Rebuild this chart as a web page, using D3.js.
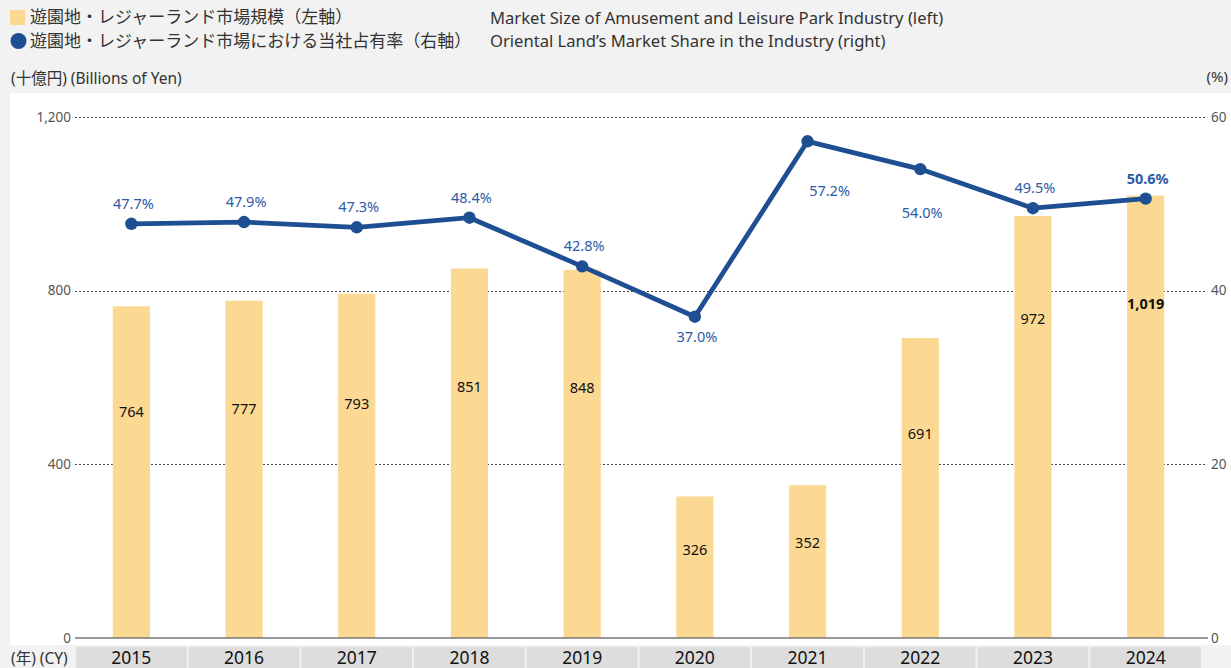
<!DOCTYPE html>
<html>
<head>
<meta charset="utf-8">
<script src="https://cdn.jsdelivr.net/npm/d3@7/dist/d3.min.js"></script>
<style>
  html, body { margin: 0; padding: 0; background: #f1f2f1; }
  svg { display: block; }
  text { font-family: "Noto Sans", "Noto Sans CJK JP", sans-serif; }
</style>
</head>
<body>
<svg id="chart" width="1231" height="668"></svg>
<script>
// Calendar years
const years = ["2015", "2016", "2017", "2018", "2019", "2020", "2021", "2022", "2023", "2024"];
// Market size of amusement and leisure parks (billions of yen, left axis)
const marketSize = [764, 777, 793, 851, 848, 326, 352, 691, 972, 1019];
// Oriental Land's market share (%, right axis)
const marketShare = [47.7, 47.9, 47.3, 48.4, 42.8, 37.0, 57.2, 54.0, 49.5, 50.6];
// Where each share label sits relative to its point
const shareLabelSide = ["above", "above", "above", "above", "above", "below", "belowRight", "belowFar", "above", "above"];
// Axis ticks
const leftTicks = [0, 400, 800, 1200];
const rightTicks = [0, 20, 40, 60];

const svg = d3.select("#chart");
const W = 1231, H = 668;
const plot = { left: 75, right: 1202, top: 117, bottom: 638 };

const barColor = "#fcd992";
const lineColor = "#1e4f92";
const shareText = "#2d5ba5";

// White plotting panel
svg.append("rect")
  .attr("x", 10).attr("y", 93)
  .attr("width", W - 10).attr("height", 552)
  .attr("fill", "#ffffff");

const x = d3.scaleBand().domain(years).range([plot.left, plot.right]).paddingInner(0).paddingOuter(0);
const yL = d3.scaleLinear().domain([0, 1200]).range([plot.bottom, plot.top]);
const yR = d3.scaleLinear().domain([0, 60]).range([plot.bottom, plot.top]);
const barW = x.bandwidth() * 0.33;
const cx = i => x(years[i]) + x.bandwidth() / 2;

// Dotted gridlines (skip the baseline)
svg.append("g").selectAll("line")
  .data(leftTicks.filter(t => t > 0))
  .join("line")
  .attr("x1", plot.left).attr("x2", 1207)
  .attr("y1", d => Math.round(yL(d)) + 0.5).attr("y2", d => Math.round(yL(d)) + 0.5)
  .attr("stroke", "#444").attr("stroke-width", 1)
  .attr("stroke-dasharray", "2,2");

// Left axis
const leftAxis = d3.axisLeft(yL).tickValues(leftTicks).tickSize(0).tickPadding(0)
  .tickFormat(d3.format(","));
const gl = svg.append("g").attr("transform", `translate(${plot.left - 4},0)`).call(leftAxis);
gl.select(".domain").remove();
gl.selectAll("text").attr("font-size", 13.5).attr("fill", "#555")
  .attr("font-family", "'Noto Sans', sans-serif");

// Right axis
const rightAxis = d3.axisRight(yR).tickValues(rightTicks).tickSize(0).tickPadding(0);
const gr = svg.append("g").attr("transform", `translate(1211,0)`).call(rightAxis);
gr.select(".domain").remove();
gr.selectAll("text").attr("font-size", 13.5).attr("fill", "#555")
  .attr("font-family", "'Noto Sans', sans-serif");

// Bars
svg.append("g").selectAll("rect")
  .data(marketSize)
  .join("rect")
  .attr("x", (d, i) => x(years[i]) + (x.bandwidth() - barW) / 2)
  .attr("y", d => yL(d))
  .attr("width", barW)
  .attr("height", d => yL(0) - yL(d))
  .attr("fill", barColor);

// Bar value labels, set down inside each bar
function labelDepth(d, i) {
  const h = yL(0) - yL(d);
  if (i >= 8) return h * 0.245;
  if (h < 200) return h * 0.38;
  return h * 0.32;
}
svg.append("g").selectAll("text")
  .data(marketSize)
  .join("text")
  .attr("x", (d, i) => cx(i))
  .attr("y", (d, i) => yL(d) + labelDepth(d, i) + 5)
  .attr("text-anchor", "middle")
  .attr("font-size", 14.5)
  .attr("font-weight", (d, i) => i === marketSize.length - 1 ? 700 : 400)
  .attr("fill", "#111")
  .text(d => d3.format(",")(d));

// Baseline
svg.append("line")
  .attr("x1", plot.left).attr("x2", 1208)
  .attr("y1", plot.bottom).attr("y2", plot.bottom)
  .attr("stroke", "#777").attr("stroke-width", 1.6);

// Year band cells
const cells = svg.append("g");
cells.selectAll("rect")
  .data(years)
  .join("rect")
  .attr("x", d => x(d) + 1)
  .attr("y", 647)
  .attr("width", x.bandwidth() - 2)
  .attr("height", 21)
  .attr("fill", "#dcdddc");
cells.selectAll("text")
  .data(years)
  .join("text")
  .attr("x", d => x(d) + x.bandwidth() / 2)
  .attr("y", 664)
  .attr("text-anchor", "middle")
  .attr("font-size", 17.5)
  .attr("fill", "#111")
  .text(d => d);

// Share line
const line = d3.line()
  .x((d, i) => cx(i))
  .y(d => yR(d));
svg.append("path")
  .datum(marketShare)
  .attr("d", line)
  .attr("fill", "none")
  .attr("stroke", lineColor)
  .attr("stroke-width", 4.8)
  .attr("stroke-linejoin", "round");

svg.append("g").selectAll("circle")
  .data(marketShare)
  .join("circle")
  .attr("cx", (d, i) => cx(i))
  .attr("cy", d => yR(d))
  .attr("r", 6.2)
  .attr("fill", lineColor);

// Share labels
const sideOffset = {
  above: { dx: 2, dy: -15 },
  below: { dx: 2, dy: 25 },
  belowFar: { dx: 2, dy: 49 },
  belowRight: { dx: 22, dy: 55 }
};
svg.append("g").selectAll("text")
  .data(marketShare)
  .join("text")
  .attr("x", (d, i) => cx(i) + sideOffset[shareLabelSide[i]].dx)
  .attr("y", (d, i) => yR(d) + sideOffset[shareLabelSide[i]].dy)
  .attr("text-anchor", "middle")
  .attr("font-size", 14.5)
  .attr("font-weight", (d, i) => i === marketShare.length - 1 ? 700 : 400)
  .attr("fill", shareText)
  .text(d => d.toFixed(1) + "%");

// Legend
const legend = svg.append("g");
legend.append("rect").attr("x", 10).attr("y", 10).attr("width", 15).attr("height", 15).attr("fill", barColor);
legend.append("circle").attr("cx", 18.5).attr("cy", 41).attr("r", 8).attr("fill", lineColor);
legend.append("text").attr("x", 30).attr("y", 23).attr("font-size", 17).attr("fill", "#333")
  .attr("font-family", "'Noto Sans CJK JP', sans-serif")
  .text("遊園地・レジャーランド市場規模（左軸）");
legend.append("text").attr("x", 30).attr("y", 47).attr("font-size", 17).attr("fill", "#333")
  .attr("font-family", "'Noto Sans CJK JP', sans-serif")
  .text("遊園地・レジャーランド市場における当社占有率（右軸）");
legend.append("text").attr("x", 490).attr("y", 24).attr("font-size", 16.6).attr("fill", "#333")
  .text("Market Size of Amusement and Leisure Park Industry (left)");
legend.append("text").attr("x", 490).attr("y", 47).attr("font-size", 16.6).attr("fill", "#333")
  .text("Oriental Land’s Market Share in the Industry (right)");

// Axis unit captions
svg.append("text").attr("x", 11).attr("y", 84).attr("font-size", 15.5).attr("fill", "#333")
  .text("(十億円) (Billions of Yen)");
svg.append("text").attr("x", 1228).attr("y", 82).attr("text-anchor", "end").attr("font-size", 15).attr("fill", "#333")
  .text("(%)");
svg.append("text").attr("x", 11).attr("y", 664).attr("font-size", 15.5).attr("fill", "#333")
  .text("(年) (CY)");
</script>
</body>
</html>
